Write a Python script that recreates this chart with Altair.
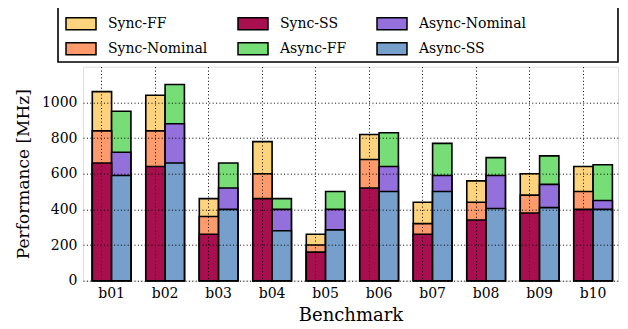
import altair as alt
import pandas as pd

benchmarks = ["b01", "b02", "b03", "b04", "b05", "b06", "b07", "b08", "b09", "b10"]
sync_ss = [660, 640, 260, 460, 160, 520, 260, 340, 380, 400]
sync_nominal = [840, 840, 360, 600, 200, 680, 320, 440, 480, 500]
sync_ff = [1060, 1040, 460, 780, 260, 820, 440, 560, 600, 640]
async_ss = [590, 660, 400, 280, 285, 500, 500, 405, 410, 400]
async_nominal = [720, 880, 520, 400, 400, 640, 590, 590, 540, 450]
async_ff = [950, 1100, 660, 460, 500, 830, 770, 690, 700, 650]

legend_order = ["Sync-FF", "Sync-Nominal", "Sync-SS", "Async-FF", "Async-Nominal", "Async-SS"]
colors = ["#FED37E", "#FE9B6C", "#A80F4F", "#77DD77", "#9370DB", "#769FCB"]

series = [
    ("Sync", "Sync-FF", sync_ff, 0),
    ("Sync", "Sync-Nominal", sync_nominal, 1),
    ("Sync", "Sync-SS", sync_ss, 2),
    ("Async", "Async-FF", async_ff, 0),
    ("Async", "Async-Nominal", async_nominal, 1),
    ("Async", "Async-SS", async_ss, 2),
]
rows = []
for mode, name, vals, rank in series:
    for b, v in zip(benchmarks, vals):
        rows.append({"Benchmark": b, "Mode": mode, "Series": name, "Value": v, "Rank": rank})
df = pd.DataFrame(rows).sort_values("Rank", kind="stable")

FONT = "DejaVu Serif"
W, H = 535, 214

bars = alt.Chart(df).mark_bar(stroke="black", strokeWidth=1.6, opacity=1).encode(
    x=alt.X("Benchmark:N", sort=benchmarks,
            scale=alt.Scale(paddingInner=0.278, paddingOuter=0.139, align=0.624),
            axis=alt.Axis(title="Benchmark", labelAngle=0, bandPosition=0.25, grid=True,
                          gridColor="black", gridDash=[1, 2.4], gridWidth=1, gridOpacity=1,
                          ticks=False, domain=False, labelPadding=6, zindex=1,
                          labelFont=FONT, labelFontSize=14, labelColor="black",
                          titleFont=FONT, titleFontSize=18, titleFontWeight="normal",
                          titleColor="black", titlePadding=6)),
    xOffset=alt.XOffset("Mode:N", sort=["Sync", "Async"],
                        scale=alt.Scale(paddingInner=0, paddingOuter=0)),
    y=alt.Y("Value:Q", stack=None, scale=alt.Scale(domain=[0, 1200], nice=False),
            axis=alt.Axis(title="Performance [MHz]", values=[0, 200, 400, 600, 800, 1000],
                          format="d",
                          grid=True, gridColor="black", gridDash=[1, 2.4], gridWidth=1,
                          gridOpacity=1, ticks=False, domain=False, labelPadding=6, zindex=1,
                          labelFont=FONT, labelFontSize=14, labelColor="black",
                          titleFont=FONT, titleFontSize=17, titleFontWeight="normal",
                          titleColor="black", titlePadding=9)),
    color=alt.Color("Series:N", scale=alt.Scale(domain=legend_order, range=colors),
                    legend=alt.Legend(title=None, orient="none", legendX=-13, legendY=-54,
                                      columns=3, columnPadding=27, rowPadding=5,
                                      symbolType="M-1.5,-0.6H1.5V0.6H-1.5Z", symbolSize=400,
                                      symbolStrokeColor="black", symbolStrokeWidth=1.5,
                                      symbolOpacity=1, labelOffset=16,
                                      labelFont=FONT, labelFontSize=14, labelColor="black",
                                      labelLimit=300, padding=0)),
    order=alt.Order("Rank:Q"),
)

frame = alt.Chart(pd.DataFrame({"k": [0]})).mark_rect(
    fill="white", stroke="black", strokeWidth=1.6
).encode(x=alt.value(-25), x2=alt.value(535), y=alt.value(-60.7), y2=alt.value(-4.7))

chart = alt.layer(frame, bars).properties(
    width=W, height=H,
    autosize=alt.AutoSizeParams(type="none"),
    padding={"left": 75, "top": 58.7, "right": 2, "bottom": 48},
).configure_view(stroke="black", strokeWidth=1.6).configure(background="white")

chart.save("out.html", embed_options={"renderer": "svg", "actions": False})
